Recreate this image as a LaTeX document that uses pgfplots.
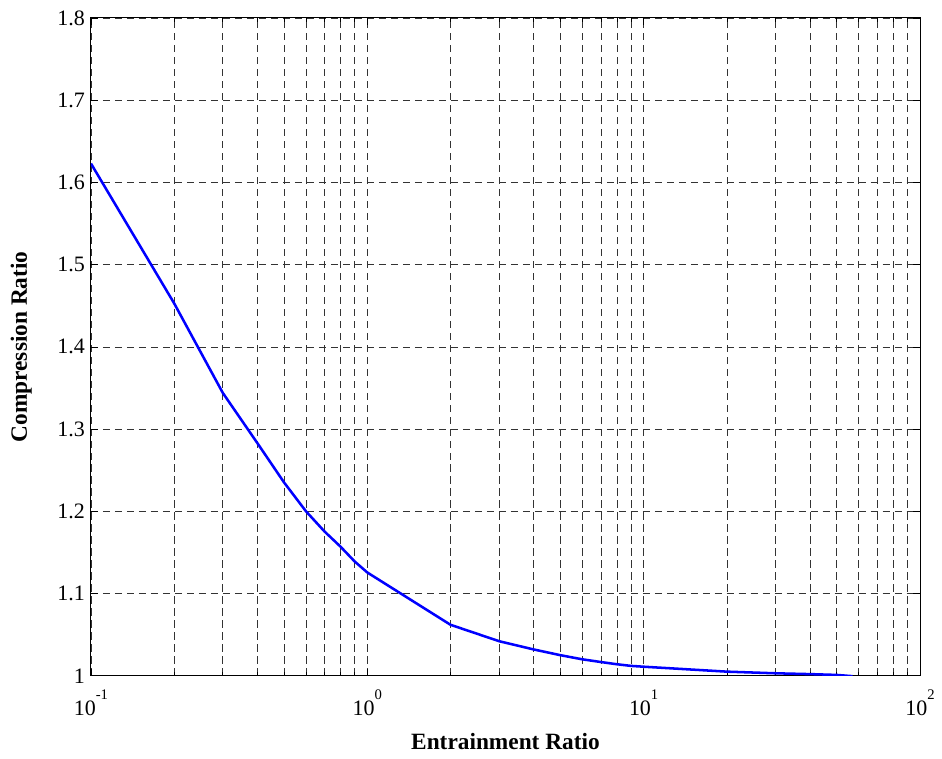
\documentclass[border=0pt]{standalone}
\usepackage{pgfplots}
\pgfplotsset{compat=1.18}
\usepackage{fontspec}
\setmainfont{Liberation Serif}

\pgfplotstableread{
x y
0.1 1.623
0.2 1.453
0.3 1.344
0.4 1.283
0.5 1.235
0.6 1.200
0.7 1.1755
0.8 1.157
0.9 1.139
1 1.1256
2 1.062
3 1.042
4 1.032
5 1.025
6 1.020
7 1.0167
8 1.014
9 1.012
10 1.011
20 1.005
30 1.003
40 1.002
50 1.001
57 0.9995
}\ratiodata

% decade label: base 10 with a raised exponent
\newcommand{\dec}[1]{10\raisebox{12pt}{\fontsize{11}{12}\selectfont #1}}

\begin{document}
\begin{tikzpicture}
\begin{axis}[
  scale only axis,
  width=622pt, height=493.5pt,
  xmode=log,
  xmin=0.1, xmax=100,
  ymin=1, ymax=1.8,
  xtick={0.1,1,10,100},
  xticklabels={\dec{-1},\dec{0},\dec{1},\dec{2}},
  ytick={1,1.1,1.2,1.3,1.4,1.5,1.6,1.7,1.8},
  yticklabels={1,1.1,1.2,1.3,1.4,1.5,1.6,1.7,1.8},
  tick label style={font=\fontsize{16.5}{19}\selectfont},
  xticklabel style={anchor=base, yshift=-30pt},
  yticklabel style={xshift=-1pt},
  tick align=inside,
  tick pos=both,
  major tick length=5pt,
  minor tick length=3pt,
  tick style={black, line width=0.5pt},
  grid=both,
  xminorgrids=true,
  yminorgrids=false,
  major grid style={black!80, line width=0.5pt, dash pattern=on 5.5pt off 3.5pt},
  minor grid style={black!80, line width=0.5pt, dash pattern=on 5.5pt off 3.5pt},
  axis line style={black, line width=0.75pt},
  xlabel={\textbf{Entrainment Ratio}},
  ylabel={\textbf{Compression Ratio}},
  label style={font=\fontsize{17.5}{20}\selectfont},
  xlabel style={at={(axis description cs:0.5,-0.1125)}, anchor=base},
  ylabel style={at={(axis description cs:-0.0772,0.5)}, anchor=base},
]
\addplot[blue, line width=1.9pt] table[x=x, y=y] {\ratiodata};
\end{axis}
\pgfresetboundingbox
\path ([xshift=-68.25pt,yshift=-62.25pt]current axis.south west) rectangle ([xshift=16.5pt,yshift=13.5pt]current axis.north east);
\end{tikzpicture}
\end{document}
